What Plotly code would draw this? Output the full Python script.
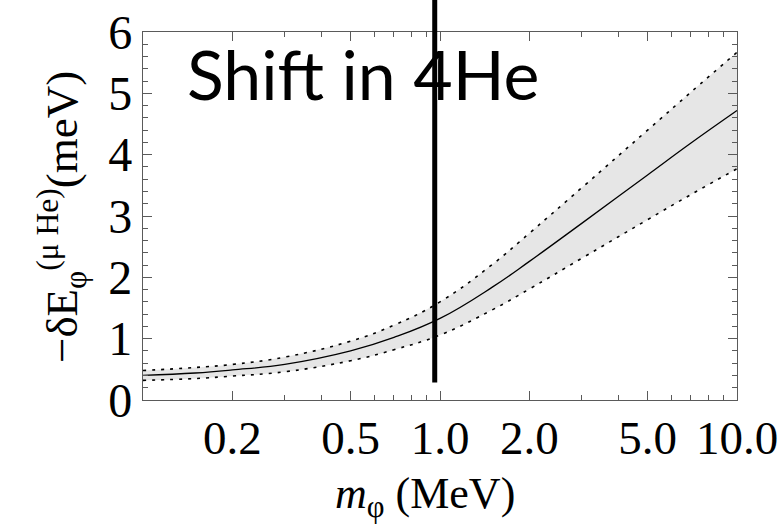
import plotly.graph_objects as go

# mediator mass (MeV) and energy shift (meV): central curve with its band
m_phi = [0.1, 0.15, 0.2, 0.3, 0.5, 0.7, 1.0, 1.5, 2.0, 3.0, 5.0, 7.0, 10.0]
shift_central = [0.40, 0.44, 0.49, 0.58, 0.80, 1.02, 1.33, 1.84, 2.26, 2.88, 3.67, 4.19, 4.72]
shift_lower = [0.32, 0.35, 0.39, 0.46, 0.64, 0.82, 1.06, 1.47, 1.81, 2.31, 2.94, 3.35, 3.77]
shift_upper = [0.48, 0.53, 0.58, 0.70, 0.96, 1.22, 1.60, 2.21, 2.72, 3.46, 4.40, 5.02, 5.67]

# marked mass value and the lower end of its vertical marker
marker_mass = 0.96
marker_bottom = 0.285

x_tickvals = [0.2, 0.5, 1.0, 2.0, 5.0, 10.0]
x_ticktext = ["0.2", "0.5", "1.0", "2.0", "5.0", "10.0"]
x_minor = [0.3, 0.4, 0.6, 0.7, 0.8, 0.9, 3, 4, 6, 7, 8, 9]
y_tickvals = [0, 1, 2, 3, 4, 5, 6]

serif = "Liberation Serif"
frame = "#5a5a5a"

fig = go.Figure()

fig.add_trace(go.Scatter(
    x=m_phi, y=shift_lower, mode="lines",
    line=dict(color="black", width=1.6, dash="3px,6px", shape="spline", smoothing=1.2),
    hoverinfo="skip", showlegend=False))
fig.add_trace(go.Scatter(
    x=m_phi, y=shift_upper, mode="lines", fill="tonexty", fillcolor="#e6e6e6",
    line=dict(color="black", width=1.6, dash="3px,6px", shape="spline", smoothing=1.2),
    hoverinfo="skip", showlegend=False))
fig.add_trace(go.Scatter(
    x=m_phi, y=shift_central, mode="lines",
    line=dict(color="black", width=1.3, shape="spline", smoothing=1.2),
    hoverinfo="skip", showlegend=False))

fig.update_xaxes(
    type="log", range=[-1, 1], automargin=False,
    tickvals=x_tickvals, ticktext=x_ticktext,
    ticks="inside", ticklen=9, tickwidth=1, tickcolor=frame,
    minor=dict(tickvals=x_minor, ticks="inside", ticklen=5, tickcolor=frame, tickwidth=1),
    showline=True, linecolor=frame, linewidth=1.2, mirror="ticks",
    showgrid=False, zeroline=False, ticklabelstandoff=-4,
    tickfont=dict(family=serif, size=47, color="black"),
)
fig.update_yaxes(
    range=[0, 6], automargin=False,
    tickvals=y_tickvals,
    ticks="inside", ticklen=9, tickwidth=1, tickcolor=frame,
    minor=dict(dtick=0.2, ticks="inside", ticklen=5, tickcolor=frame, tickwidth=1),
    showline=True, linecolor=frame, linewidth=1.2, mirror="ticks",
    showgrid=False, zeroline=False,
    tickfont=dict(family=serif, size=48, color="black"),
)

# thick vertical marker, running past the top of the frame
fig.add_shape(type="line", xref="x", yref="paper",
              x0=marker_mass, x1=marker_mass,
              y0=marker_bottom / 6, y1=1.3,
              line=dict(color="black", width=5))

plot_w, plot_h = 594, 368
ml, mt = 143, 32

def px(x):
    return (x - ml) / plot_w

def py(y):
    return 1 - (y - mt) / plot_h

fig.add_annotation(
    text="Shift in 4He", xref="paper", yref="paper",
    x=px(363), y=py(74), xanchor="center", yanchor="middle",
    showarrow=False, font=dict(family="Lato", size=68, color="black"))

fig.add_annotation(
    text="\u2212\u03b4E<sub>\u03c6</sub><sup>(\u03bc He)</sup>(meV)",
    xref="paper", yref="paper", x=px(62), y=py(217),
    xanchor="center", yanchor="middle", textangle=-90,
    showarrow=False, font=dict(family=serif, size=45, color="black"))

fig.add_annotation(
    text="<i>m</i><sub>\u03c6</sub> (MeV)",
    xref="paper", yref="paper", x=px(425), y=py(497),
    xanchor="center", yanchor="middle",
    showarrow=False, font=dict(family=serif, size=44, color="black"))

# caption sitting above the figure edge, only its lowest strokes show
fig.add_annotation(
    text="<i>m</i><sub>\u03c6</sub> (MeV)",
    xref="paper", yref="paper", x=px(425), y=py(2),
    xanchor="center", yanchor="bottom",
    showarrow=False, font=dict(family=serif, size=34, color="black"))

fig.update_layout(
    width=784, height=528,
    margin=dict(l=ml, r=784 - ml - plot_w, t=mt, b=528 - mt - plot_h),
    paper_bgcolor="white", plot_bgcolor="white",
)

fig.write_html("out.html")
